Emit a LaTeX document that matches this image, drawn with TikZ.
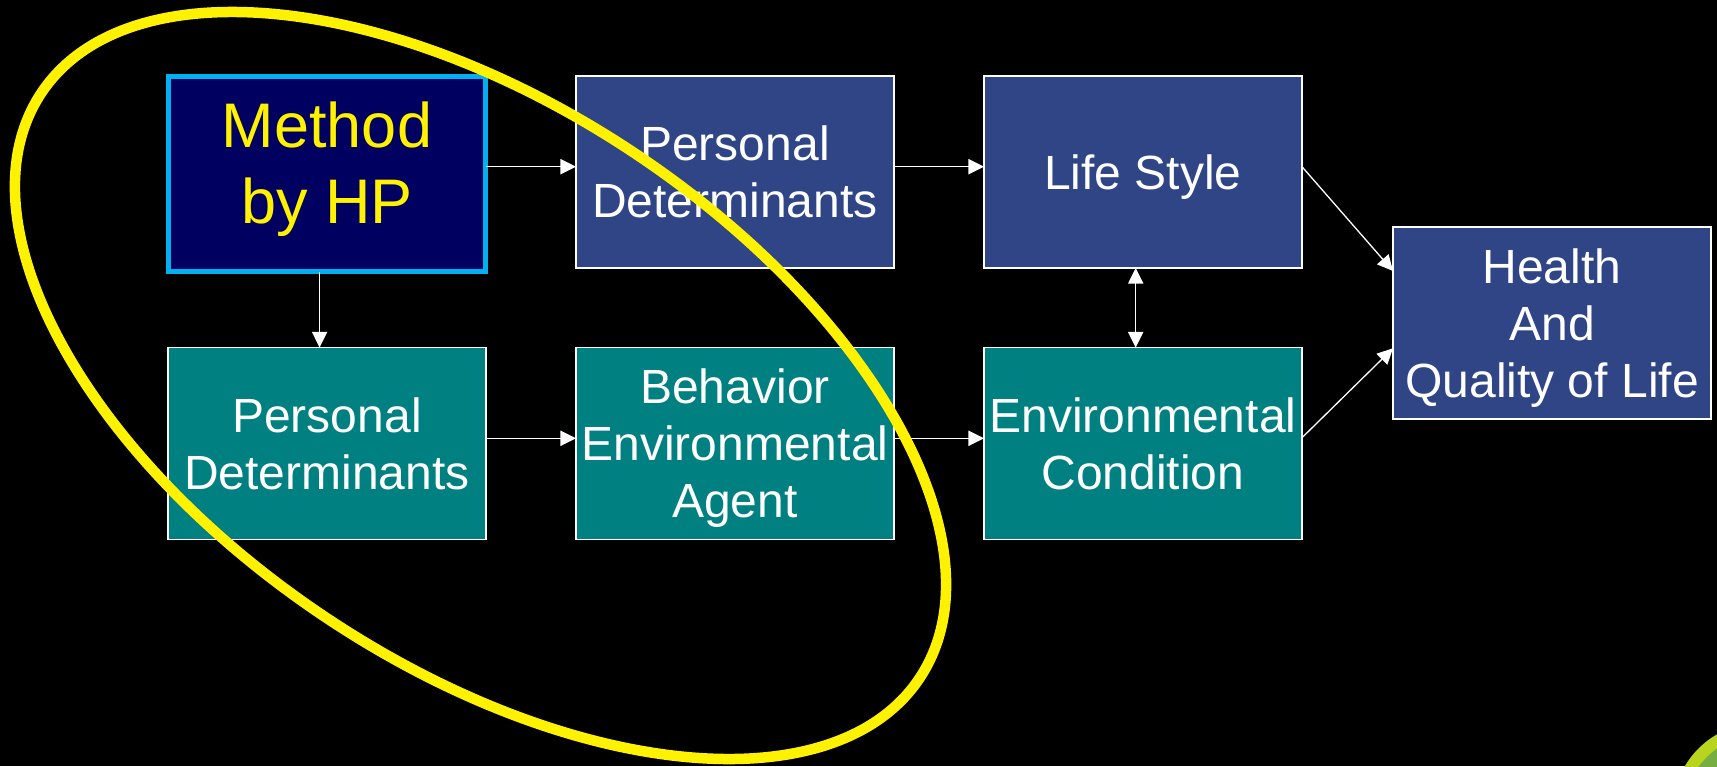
\documentclass[tikz,border=0pt]{standalone}
\usepackage{fontspec}
\setmainfont{Liberation Sans}
\usetikzlibrary{arrows.meta,calc}

\definecolor{hpnavy}{RGB}{0,0,96}
\definecolor{hpcyan}{RGB}{0,176,240}
\definecolor{boxblue}{RGB}{47,69,134}
\definecolor{boxteal}{RGB}{0,128,128}
\definecolor{ringouter}{RGB}{184,212,30}
\definecolor{ringinner}{RGB}{118,174,67}

% last line of a label: keep its descenders out of the vertical centring
\newcommand{\nodescent}[1]{\raisebox{0pt}[\height][0pt]{#1}}

\begin{document}
\begin{tikzpicture}[x=0.5pt,y=-0.5pt,
  box/.style={draw=white, line width=0.65pt, minimum width=159pt, minimum height=96pt,
    inner sep=0pt, outer sep=0pt, align=center, text=white,
    font=\fontsize{24pt}{28.5pt}\selectfont},
  bluebox/.style={box, fill=boxblue},
  tealbox/.style={box, fill=boxteal},
  hpbox/.style={draw=hpcyan, line width=2.5pt, fill=hpnavy, minimum width=158.5pt,
    minimum height=97.75pt, inner sep=0pt, outer sep=0pt},
  hptext/.style={text=yellow, align=center, inner sep=0pt,
    font=\fontsize{31.5pt}{37.85pt}\selectfont},
  tip/.style={Triangle[length=7.8pt,width=7.6pt]},
  arr/.style={draw=white, line width=0.65pt, -{Triangle[length=7.8pt,width=7.6pt]}},
  darr/.style={draw=white, line width=0.65pt,
    {Triangle[length=7.8pt,width=7.6pt]}-{Triangle[length=7.8pt,width=7.6pt]}},
  focusring/.style={draw=yellow, line width=5.25pt}
]
% black slide background
\fill[black] (0,0) rectangle (1717,766);
\useasboundingbox (0,0) rectangle (1717,766);

% decorative disc in the lower right corner
\begin{scope}
  \clip (0,0) rectangle (1717,766);
  \fill[ringouter] (1760,810) circle[radius=87];
  \fill[ringinner] (1760,810) circle[radius=75];
\end{scope}

% boxes
\node[hpbox] (A) at (327,173.75) {};
\node[hptext] (Atext) at ($(A.center)+(0,-10.9)$) {Method\\\nodescent{by HP}};
\node[bluebox] (B) at (735,172) {Personal\\Determinants};
\node[bluebox] (C) at (1143,172) {\nodescent{Life Style}};
\node[bluebox] (D) at (1552,323) {Health\\And\\\nodescent{Quality of Life}};
\node[tealbox] (E) at (327,443.5) {Personal\\Determinants};
\node[tealbox] (F) at (735,443.5) {Behavior\\Environmental\\\nodescent{Agent}};
\node[tealbox] (G) at (1143,443.5) {Environmental\\Condition};

% connectors
\draw[arr] ($(A.east|-B.west)+(0,-5.3)$) -- ($(B.west)+(0,-5.3)$);
\draw[arr] ($(B.east)+(0,-5.3)$) -- ($(C.west)+(0,-5.3)$);
\draw[arr] ($(A.south)+(-7.4,0)$) -- ($(E.north)+(-7.4,0)$);
\draw[arr] ($(E.east)+(0,-5.2)$) -- ($(F.west)+(0,-5.2)$);
\draw[arr] ($(F.east)+(0,-5.2)$) -- ($(G.west)+(0,-5.2)$);
\draw[darr] ($(C.south)+(-7.3,0)$) -- ($(G.north)+(-7.3,0)$);
\draw[arr] ($(C.east)+(0,-5.3)$) -- ($(D.west)+(0,-52)$);
\draw[arr] ($(G.east)+(0,-5.8)$) -- ($(D.west)+(0,25.3)$);

% yellow outline around the HP part
\draw[focusring, rotate around={-33.7:(480.5,385.5)}]
  (480.5,385.5) ellipse [x radius=527.7, y radius=278.8];
\end{tikzpicture}
\end{document}
